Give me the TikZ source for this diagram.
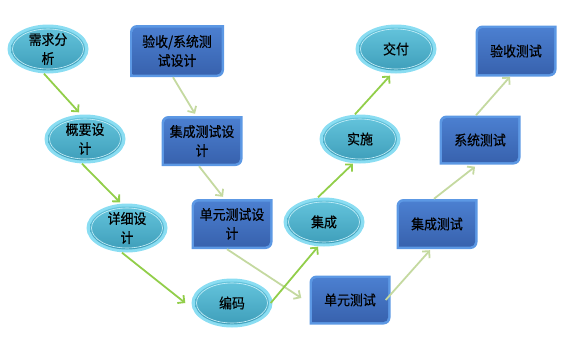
\documentclass[tikz,border=0pt]{standalone}
\usepackage{fontspec}
\setmainfont{Noto Sans CJK SC}[FakeStretch=0.92, FakeBold=0.5]
\usetikzlibrary{shapes.geometric,arrows.meta,calc}
\definecolor{rimcyan}{HTML}{8ADDF2}
\definecolor{cyantop}{HTML}{66C6DE}
\definecolor{cyanbot}{HTML}{3C9CB8}
\definecolor{rimblue}{HTML}{5C98E4}
\definecolor{bluetop}{HTML}{4B7FD0}
\definecolor{bluebot}{HTML}{3862AE}
\definecolor{lgreen}{HTML}{92CE4A}
\definecolor{pgreen}{HTML}{C4D9A0}
\tikzset{
  ovalbox/.style={ellipse, minimum width=81pt, minimum height=49pt, inner sep=0pt,
    align=center, fill=rimcyan,
    path picture={
      \shade[top color=cyantop, bottom color=cyanbot]
        (path picture bounding box.center) ellipse [x radius=37pt, y radius=21.5pt];
      \draw[white!55!rimcyan, line width=0.6pt]
        (path picture bounding box.center) ellipse [x radius=35.5pt, y radius=20pt];
    }},
  rectbox/.style={rectangle, minimum width=81pt, minimum height=50pt, inner sep=0pt,
    align=center,
    path picture={
      \path let \p1=(path picture bounding box.south west),
                \p2=(path picture bounding box.north east) in
        [fill=rimblue] (\x1,\y1) -- (\x1,\y2-7pt) arc[start angle=180,end angle=90,radius=7pt]
          -- (\x2,\y2) -- (\x2,\y1+7pt) arc[start angle=0,end angle=-90,radius=7pt] -- cycle;
      \path let \p1=(path picture bounding box.south west),
                \p2=(path picture bounding box.north east) in
        [top color=bluetop, bottom color=bluebot]
        (\x1+2.5pt,\y1+2.5pt) -- (\x1+2.5pt,\y2-7pt) arc[start angle=180,end angle=90,radius=4.5pt]
          -- (\x2-2.5pt,\y2-2.5pt) -- (\x2-2.5pt,\y1+7pt) arc[start angle=0,end angle=-90,radius=4.5pt] -- cycle;
    }},
  lfl/.style={draw=lgreen, line width=1.8pt, -{Straight Barb[length=5pt,width=10pt]}},
  rfl/.style={draw=pgreen, line width=1.8pt, -{Straight Barb[length=5pt,width=10pt]}},
}
\begin{document}
\begin{tikzpicture}[x=1pt, y=-1pt, font=\fontsize{14}{19}\selectfont]
\useasboundingbox (0,0) rectangle (567,340);
% left V (ellipses)
\node[ovalbox] (qf) at (48,49) {需求分\\析};
\node[ovalbox] (gy) at (85,139) {概要设\\计};
\node[ovalbox] (xx) at (127,228) {详细设\\计};
\node[ovalbox] (bm) at (232,303) {编码};
\node[ovalbox] (jc) at (324,222) {集成};
\node[ovalbox] (ss) at (360,139) {实施};
\node[ovalbox] (jf) at (396,49) {交付};
% test boxes
\node[rectbox, minimum width=94pt, minimum height=52pt] (ysd) at (177,51) {验收/系统测\\试设计};
\node[rectbox] (jcd) at (202,141) {集成测试设\\计};
\node[rectbox] (dyd) at (232,224) {单元测试设\\计};
\node[rectbox, minimum height=49pt] (dyc) at (350,300) {单元测试};
\node[rectbox] (jcc) at (437,224) {集成测试};
\node[rectbox, minimum height=49pt] (xtc) at (480,140) {系统测试};
\node[rectbox, minimum height=51pt] (ysc) at (516,51) {验收测试};
% right-hand arrows (pale)
\draw[rfl] ([xshift=-4pt]ysd.south) -- ([xshift=-7pt,yshift=2pt]jcd.north);
\draw[rfl] ([xshift=-3pt]jcd.south) -- ([xshift=-9pt,yshift=2pt]dyd.north);
\draw[rfl] ([xshift=-5pt]dyd.south) -- ([xshift=-8pt,yshift=2pt]dyc.west);
\draw[rfl] ([xshift=-5pt]dyc.east) -- ([xshift=-7pt,yshift=-1pt]jcc.south);
\draw[rfl] ([xshift=-3pt]jcc.north) -- ([xshift=-5pt,yshift=-2pt]xtc.south);
\draw[rfl] ([xshift=-4pt]xtc.north) -- ([xshift=-6pt]ysc.south);
% left-hand arrows (bright)
\draw[lfl] ([xshift=-4pt]qf.south) -- ([xshift=-6pt,yshift=2pt]gy.north);
\draw[lfl] ([xshift=-3pt]gy.south) -- ([xshift=-7pt,yshift=1pt]xx.north);
\draw[lfl] ([xshift=-5pt]xx.south) -- ([xshift=-6pt]bm.west);
\draw[lfl] ([xshift=-2pt]bm.east) -- ([xshift=-6pt]jc.south);
\draw[lfl] ([xshift=-6pt]jc.north) -- ([xshift=-7pt]ss.south);
\draw[lfl] ([xshift=-5pt]ss.north) -- ([xshift=-6pt,yshift=-2pt]jf.south);
\end{tikzpicture}
\end{document}
